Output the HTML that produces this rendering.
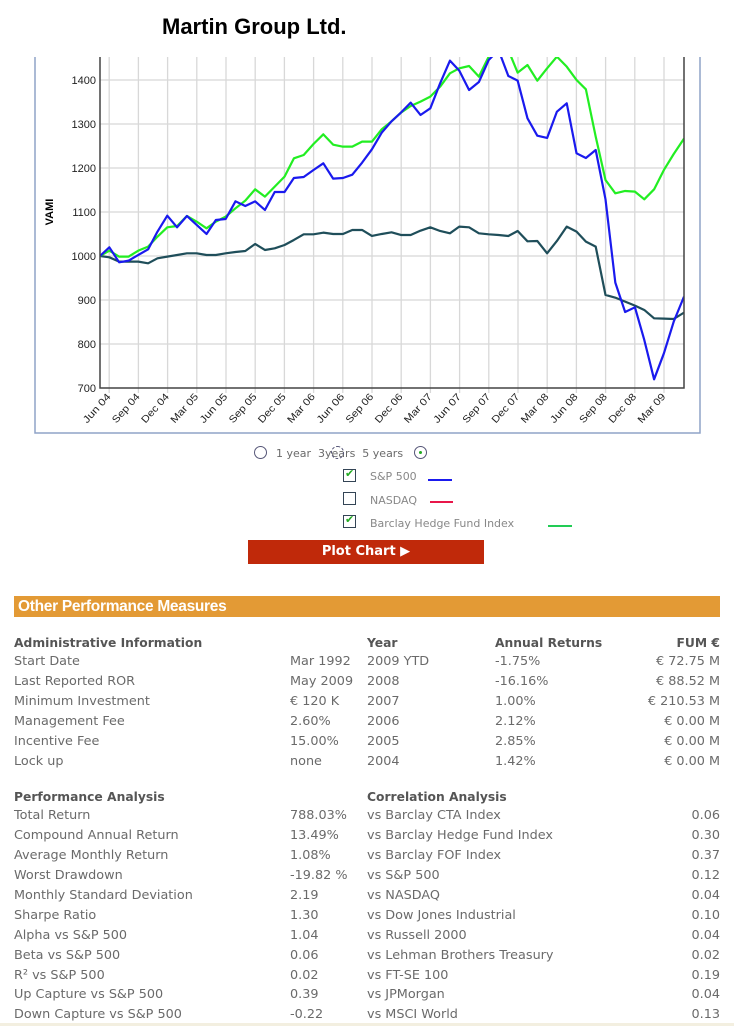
<!DOCTYPE html>
<html><head><meta charset="utf-8"><style>
body{margin:0;width:734px;height:1026px;background:#fff;position:relative;overflow:hidden;font-family:"DejaVu Sans",sans-serif}
.t{position:absolute;font-size:12.8px;color:#6a6a6a;white-space:nowrap;line-height:14px}
.h{font-weight:bold;color:#555;font-size:12.3px}
.r{text-align:right}
</style></head><body>
<div style="position:absolute;left:162px;top:14px;font:bold 22px 'Liberation Sans',Arial,sans-serif;color:#000">Martin Group Ltd.</div>
<svg width="734" height="440" style="position:absolute;left:0;top:0" font-family="Liberation Sans,Arial,sans-serif">
<defs><clipPath id="c"><rect x="100" y="57" width="584" height="332"/></clipPath></defs>
<path d="M35 57V433H700V57" fill="none" stroke="#8fa3c7" stroke-width="1.5"/>
<g stroke="#d8d8d8" stroke-width="1.3">
<line x1="100" y1="80" x2="684" y2="80"/><line x1="100" y1="124" x2="684" y2="124"/><line x1="100" y1="168" x2="684" y2="168"/><line x1="100" y1="212" x2="684" y2="212"/><line x1="100" y1="256" x2="684" y2="256"/><line x1="100" y1="300" x2="684" y2="300"/><line x1="100" y1="344" x2="684" y2="344"/>
</g>
<g id="vg" stroke="#d8d8d8" stroke-width="1.3"></g>
<g clip-path="url(#c)" fill="none" stroke-width="2.2" stroke-linejoin="round">
<g transform="translate(0.95,40) scale(0.4672,0.3333)">
<polyline vector-effect="non-scaling-stroke" stroke="#1f4e5a" points="212,648 232,652 253,665 273,665 294,665 315,670 335,655 356,650 377,645 398,640 419,640 440,645 460,645 481,640 502,636 523,633 544,612 565,630 586,625 607,615 627,600 648,583 669,583 690,578 711,582 732,582 752,570 773,570 794,588 815,582 836,577 856,585 877,585 898,572 919,562 940,573 961,580 981,560 1002,562 1023,580 1044,583 1065,585 1086,588 1106,573 1127,604 1148,603 1169,640 1190,603 1211,560 1232,575 1252,605 1273,620 1294,765 1315,773 1336,785 1357,797 1377,810 1398,835 1419,836 1440,837 1462,818"/>
<polyline vector-effect="non-scaling-stroke" stroke="#22ee22" points="212,648 232,632 253,650 273,650 294,632 315,620 335,590 356,562 377,558 398,528 419,545 440,565 460,545 481,530 502,505 523,482 544,448 565,470 586,440 607,410 627,355 648,345 669,312 690,283 711,314 732,320 752,320 773,305 794,305 815,268 836,244 856,218 877,198 898,185 919,170 940,140 961,100 981,85 1002,78 1023,110 1044,50 1065,20 1086,30 1106,98 1127,75 1148,122 1169,85 1190,50 1211,80 1232,120 1252,148 1273,290 1294,420 1315,460 1336,453 1357,455 1377,478 1398,448 1419,390 1440,342 1462,296"/>
<polyline vector-effect="non-scaling-stroke" stroke="#1a1aee" points="212,648 232,622 253,667 273,662 294,645 315,628 335,575 356,527 377,562 398,528 419,555 440,582 460,540 481,537 502,484 523,498 544,484 565,510 586,456 607,456 627,414 648,411 669,390 690,370 711,416 732,414 752,404 773,368 794,328 815,278 836,244 856,218 877,188 898,225 919,205 940,130 961,62 981,92 1002,150 1023,126 1044,60 1065,30 1086,108 1106,122 1127,235 1148,287 1169,294 1190,215 1211,190 1232,340 1252,354 1273,330 1294,478 1315,728 1336,816 1357,802 1377,900 1398,1018 1419,940 1440,845 1462,770"/>
</g></g>
<path d="M100 57V388H684V57" fill="none" stroke="#444" stroke-width="1.5"/>
<g font-size="11" fill="#222" text-anchor="end">
<text x="96" y="84">1400</text><text x="96" y="128">1300</text><text x="96" y="172">1200</text><text x="96" y="216">1100</text><text x="96" y="260">1000</text><text x="96" y="304">900</text><text x="96" y="348">800</text><text x="96" y="392">700</text>
</g>
<text transform="translate(53,212) rotate(-90)" font-size="11" font-weight="bold" text-anchor="middle">VAMI</text>
<g id="xl" font-size="10" fill="#222" text-anchor="end"></g>
</svg>
<script>
var labs=["Jun 04","Sep 04","Dec 04","Mar 05","Jun 05","Sep 05","Dec 05","Mar 06","Jun 06","Sep 06","Dec 06","Mar 07","Jun 07","Sep 07","Dec 07","Mar 08","Jun 08","Sep 08","Dec 08","Mar 09"];
var s="",v="";
for(var k=0;k<20;k++){var x=109.2+29.2*k;v+='<line x1="'+x+'" y1="57" x2="'+x+'" y2="393"/>';s+='<text x="'+(x+2)+'" y="397" transform="rotate(-48 '+(x+2)+' 397)" textLength="36" lengthAdjust="spacingAndGlyphs">'+labs[k]+'</text>';}
document.getElementById("vg").innerHTML=v;document.getElementById("xl").innerHTML=s;
</script>
<div style="position:absolute;left:254px;top:446px;width:11px;height:11px;border:1.5px solid #557;border-radius:50%"></div>
<div class="t" style="left:276px;top:447px;font-size:11px">1 year &nbsp;3years &nbsp;5 years</div>
<div style="position:absolute;left:331px;top:446px;width:11px;height:11px;border:1.5px dashed #557;border-radius:50%"></div>
<div style="position:absolute;left:414px;top:446px;width:11px;height:11px;border:1.5px solid #557;border-radius:50%;background:rgba(255,255,255,0.5)"></div>
<div style="position:absolute;left:419px;top:451px;width:3px;height:3px;background:#2a2;border-radius:50%"></div>
<div style="position:absolute;left:343px;top:469px;width:11px;height:11px;border:1.5px solid #345"></div>
<div style="position:absolute;left:345px;top:467px;color:#2a2;font-size:11px;font-weight:bold">✔</div>
<div class="t" style="left:370px;top:470px;font-size:11px;color:#888">S&amp;P 500</div>
<div style="position:absolute;left:428px;top:479px;width:24px;height:2px;background:#1a1aee"></div>
<div style="position:absolute;left:343px;top:492px;width:11px;height:11px;border:1.5px solid #345"></div>
<div class="t" style="left:370px;top:494px;font-size:11px;color:#888">NASDAQ</div>
<div style="position:absolute;left:430px;top:501px;width:23px;height:2px;background:#e8174a"></div>
<div style="position:absolute;left:343px;top:515px;width:11px;height:11px;border:1.5px solid #345"></div>
<div style="position:absolute;left:345px;top:513px;color:#2a2;font-size:11px;font-weight:bold">✔</div>
<div class="t" style="left:370px;top:517px;font-size:11px;color:#888">Barclay Hedge Fund Index</div>
<div style="position:absolute;left:548px;top:525px;width:24px;height:2px;background:#22cc55"></div>
<div style="position:absolute;left:248px;top:540px;width:236px;height:24px;background:#c0290a;color:#fff;font-weight:bold;font-size:13px;text-align:center;line-height:24px">Plot Chart ▶</div>
<div style="position:absolute;left:14px;top:596px;width:706px;height:21px;background:#e39a35;color:#fff;font:bold 15.5px 'Liberation Sans',Arial,sans-serif;line-height:21px;text-indent:4px;letter-spacing:-0.3px">Other Performance Measures</div>

<div class="t h" style="left:14px;top:636px">Administrative Information</div>
<div class="t h" style="left:367px;top:636px">Year</div>
<div class="t h" style="left:495px;top:636px">Annual Returns</div>
<div class="t h r" style="right:14px;top:636px">FUM €</div>

<div class="t" style="left:14px;top:655px">Start Date</div><div class="t" style="left:290px;top:655px">Mar 1992</div><div class="t" style="left:367px;top:655px">2009 YTD</div><div class="t" style="left:495px;top:655px">-1.75%</div><div class="t r" style="right:14px;top:655px">€ 72.75 M</div>
<div class="t" style="left:14px;top:675px">Last Reported ROR</div><div class="t" style="left:290px;top:675px">May 2009</div><div class="t" style="left:367px;top:675px">2008</div><div class="t" style="left:495px;top:675px">-16.16%</div><div class="t r" style="right:14px;top:675px">€ 88.52 M</div>
<div class="t" style="left:14px;top:695px">Minimum Investment</div><div class="t" style="left:290px;top:695px">€ 120 K</div><div class="t" style="left:367px;top:695px">2007</div><div class="t" style="left:495px;top:695px">1.00%</div><div class="t r" style="right:14px;top:695px">€ 210.53 M</div>
<div class="t" style="left:14px;top:715px">Management Fee</div><div class="t" style="left:290px;top:715px">2.60%</div><div class="t" style="left:367px;top:715px">2006</div><div class="t" style="left:495px;top:715px">2.12%</div><div class="t r" style="right:14px;top:715px">€ 0.00 M</div>
<div class="t" style="left:14px;top:735px">Incentive Fee</div><div class="t" style="left:290px;top:735px">15.00%</div><div class="t" style="left:367px;top:735px">2005</div><div class="t" style="left:495px;top:735px">2.85%</div><div class="t r" style="right:14px;top:735px">€ 0.00 M</div>
<div class="t" style="left:14px;top:755px">Lock up</div><div class="t" style="left:290px;top:755px">none</div><div class="t" style="left:367px;top:755px">2004</div><div class="t" style="left:495px;top:755px">1.42%</div><div class="t r" style="right:14px;top:755px">€ 0.00 M</div>

<div class="t h" style="left:14px;top:790px">Performance Analysis</div>
<div class="t h" style="left:367px;top:790px">Correlation Analysis</div>
<div class="t" style="left:14px;top:809px">Total Return</div><div class="t" style="left:290px;top:809px">788.03%</div><div class="t" style="left:367px;top:809px">vs Barclay CTA Index</div><div class="t r" style="right:14px;top:809px">0.06</div>
<div class="t" style="left:14px;top:829px">Compound Annual Return</div><div class="t" style="left:290px;top:829px">13.49%</div><div class="t" style="left:367px;top:829px">vs Barclay Hedge Fund Index</div><div class="t r" style="right:14px;top:829px">0.30</div>
<div class="t" style="left:14px;top:849px">Average Monthly Return</div><div class="t" style="left:290px;top:849px">1.08%</div><div class="t" style="left:367px;top:849px">vs Barclay FOF Index</div><div class="t r" style="right:14px;top:849px">0.37</div>
<div class="t" style="left:14px;top:869px">Worst Drawdown</div><div class="t" style="left:290px;top:869px">-19.82 %</div><div class="t" style="left:367px;top:869px">vs S&amp;P 500</div><div class="t r" style="right:14px;top:869px">0.12</div>
<div class="t" style="left:14px;top:889px">Monthly Standard Deviation</div><div class="t" style="left:290px;top:889px">2.19</div><div class="t" style="left:367px;top:889px">vs NASDAQ</div><div class="t r" style="right:14px;top:889px">0.04</div>
<div class="t" style="left:14px;top:909px">Sharpe Ratio</div><div class="t" style="left:290px;top:909px">1.30</div><div class="t" style="left:367px;top:909px">vs Dow Jones Industrial</div><div class="t r" style="right:14px;top:909px">0.10</div>
<div class="t" style="left:14px;top:929px">Alpha vs S&amp;P 500</div><div class="t" style="left:290px;top:929px">1.04</div><div class="t" style="left:367px;top:929px">vs Russell 2000</div><div class="t r" style="right:14px;top:929px">0.04</div>
<div class="t" style="left:14px;top:949px">Beta vs S&amp;P 500</div><div class="t" style="left:290px;top:949px">0.06</div><div class="t" style="left:367px;top:949px">vs Lehman Brothers Treasury</div><div class="t r" style="right:14px;top:949px">0.02</div>
<div class="t" style="left:14px;top:969px">R² vs S&amp;P 500</div><div class="t" style="left:290px;top:969px">0.02</div><div class="t" style="left:367px;top:969px">vs FT-SE 100</div><div class="t r" style="right:14px;top:969px">0.19</div>
<div class="t" style="left:14px;top:988px">Up Capture vs S&amp;P 500</div><div class="t" style="left:290px;top:988px">0.39</div><div class="t" style="left:367px;top:988px">vs JPMorgan</div><div class="t r" style="right:14px;top:988px">0.04</div>
<div class="t" style="left:14px;top:1008px">Down Capture vs S&amp;P 500</div><div class="t" style="left:290px;top:1008px">-0.22</div><div class="t" style="left:367px;top:1008px">vs MSCI World</div><div class="t r" style="right:14px;top:1008px">0.13</div>
<div style="position:absolute;left:0;top:1023px;width:734px;height:3px;background:#f3efe0"></div>
</body></html>
